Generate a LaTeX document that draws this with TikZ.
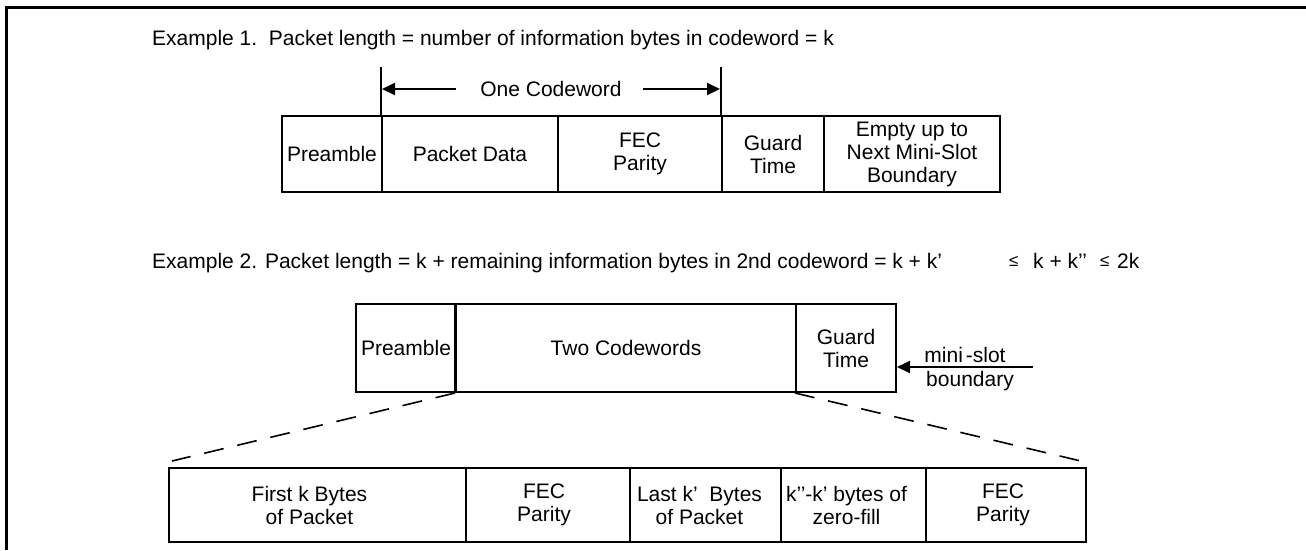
\documentclass[tikz,border=0pt]{standalone}
\usepackage{fontspec}
\setmainfont{Liberation Sans}
\usetikzlibrary{arrows.meta}
\begin{document}
\begin{tikzpicture}[x=1pt,y=-1pt,
  txt/.style={font=\fontsize{21pt}{23pt}\selectfont, inner sep=0pt},
  lbl/.style={font=\fontsize{21pt}{23pt}\selectfont, inner sep=0pt, align=center},
  cell/.style={draw, line width=2pt, inner sep=0pt, anchor=north west, align=center,
    font=\fontsize{21pt}{23pt}\selectfont},
  arr/.style={line width=2pt, -{Triangle[length=13pt,width=12pt]}},
  dsh/.style={line width=1.6pt, dash pattern=on 20pt off 14pt}
]
\useasboundingbox (0,0) rectangle (1306,550);
% frame
\draw[line width=3pt] (6,550) -- (6,7) -- (1306,7);

% Example 1
\node[txt, anchor=base west] (t1) at (152,45) {Example 1.\ \ Packet length = number of information bytes in codeword = k};
\node[cell, minimum width=100pt, minimum height=76pt] (p1) at (281,115) {Preamble};
\node[cell, minimum width=176pt, minimum height=76pt] (d1) at (381,115) {Packet Data};
\node[cell, minimum width=164pt, minimum height=76pt] (f1) at (557,115) {FEC\\Parity};
\node[cell, minimum width=102pt, minimum height=76pt] (g1) at (721,115) {Guard\\Time};
\node[cell, minimum width=176pt, minimum height=76pt] (e1) at (823,115) {Empty up to\\Next Mini-Slot\\Boundary};
\coordinate (vl) at (381,67);
\coordinate (vr) at (721,67);
\draw[line width=2pt] (d1.north west) -- (vl);
\draw[line width=2pt] (g1.north west) -- (vr);
\node[txt] (oc) at (551,89) {One Codeword};
\coordinate (al) at (382,89);
\coordinate (ar) at (720,89);
\draw[arr] ([xshift=-24pt]oc.west) -- (al);
\draw[arr] ([xshift=21pt]oc.east) -- (ar);

% Example 2
\node[txt, anchor=base west] (t2) at (152,268) {Example 2. Packet length = k + remaining information bytes in 2nd codeword = k + k’};
\node[txt, anchor=base west, font=\fontsize{17pt}{20pt}\selectfont] (le1) at (1009,266) {≤};
\node[txt, anchor=base west] (kk) at (1033,268) {k + k’’};
\node[txt, anchor=base west, font=\fontsize{17pt}{20pt}\selectfont] (le2) at (1100,266) {≤};
\node[txt, anchor=base west] (tk) at (1117,268) {2k};

\node[cell, minimum width=100pt, minimum height=88pt] (p2) at (355,303) {Preamble};
\node[cell, minimum width=340pt, minimum height=88pt] (w2) at (455,303) {Two Codewords};
\node[cell, minimum width=100pt, minimum height=88pt] (g2) at (795,303) {Guard\\Time};
\draw[line width=3pt] (w2.north west) -- (w2.south west);
\node[txt, anchor=base] (ms) at (965,362) {mini\kern3pt-slot};
\node[txt, anchor=base] (bd) at (970,386) {boundary};
\coordinate (ms0) at (1033,367);
\draw[arr] (ms0) -- (ms0 -| g2.east);

% dashed expansion lines
\coordinate (dl) at (172,461);
\coordinate (dr) at (1085,462);
\draw[dsh] (w2.south west) -- (dl);
\draw[dsh] (g2.south west) -- (dr);

% bottom expanded box
\node[cell, minimum width=297pt, minimum height=74pt] (c1) at (168,467) {};
\node[cell, minimum width=164pt, minimum height=74pt] (c2) at (465,467) {};
\node[cell, minimum width=151pt, minimum height=74pt] (c3) at (629,467) {};
\node[cell, minimum width=145pt, minimum height=74pt] (c4) at (780,467) {};
\node[cell, minimum width=160pt, minimum height=74pt] (c5) at (925,467) {};
\node[lbl] (l1) at ([xshift=-8pt]c1.center) {First k Bytes\\of Packet};
\node[lbl] (l2) at ([xshift=-4pt]c2.center) {FEC\\Parity};
\node[lbl] (l3) at ([xshift=-6pt]c3.center) {Last k’\ \ Bytes\\of Packet};
\node[lbl] (l4) at ([xshift=-7pt]c4.center) {k’’-k’ bytes of\\zero-fill};
\node[lbl] (l5) at ([xshift=-3pt]c5.center) {FEC\\Parity};
\end{tikzpicture}
\end{document}
